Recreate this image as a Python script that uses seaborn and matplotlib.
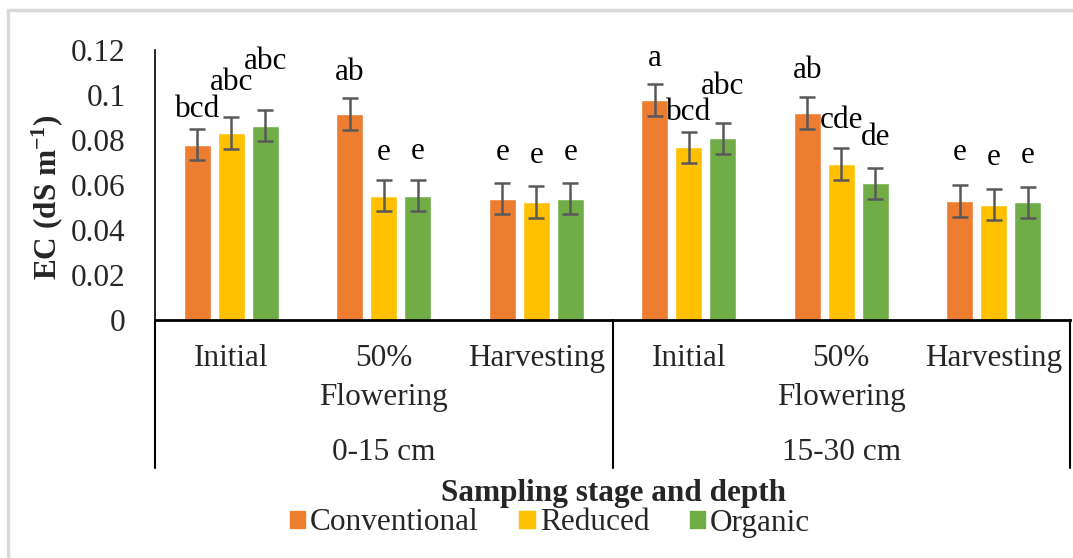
import numpy as np
import pandas as pd
import matplotlib.pyplot as plt
import seaborn as sns
from matplotlib.patches import Rectangle

# categories
stages = ["Initial", "50%\nFlowering", "Harvesting"]
depths = ["0-15 cm", "15-30 cm"]
treatments = ["Conventional", "Reduced", "Organic"]
colors = ["#ED7D31", "#FFC000", "#70AD47"]

# EC values (dS m-1), order: 0-15 cm stages then 15-30 cm stages
conventional = [0.078, 0.0915, 0.054, 0.0978, 0.092, 0.053]
reduced = [0.083, 0.0553, 0.0524, 0.0767, 0.0693, 0.0513]
organic = [0.0864, 0.0553, 0.054, 0.0807, 0.0607, 0.0523]

# error bars
err_conventional = [0.007, 0.007, 0.007, 0.007, 0.007, 0.007]
err_reduced = [0.007, 0.007, 0.007, 0.007, 0.007, 0.007]
err_organic = [0.007, 0.007, 0.007, 0.007, 0.007, 0.007]

# significance letters
letters_conventional = ["bcd", "ab", "e", "a", "ab", "e"]
letters_reduced = ["abc", "e", "e", "bcd", "cde", "e"]
letters_organic = ["abc", "e", "e", "abc", "de", "e"]

# gap (pixels) between error bar top and letter centre
gap_conventional = [19, 26, 30, 26, 27, 32]
gap_reduced = [35, 27, 31, 19, 28, 31]
gap_organic = [48, 28, 30, 36, 30, 31]

slots = [f"{d}|{s}" for d in depths for s in stages]
series = {"Conventional": conventional, "Reduced": reduced, "Organic": organic}
errors = {"Conventional": err_conventional, "Reduced": err_reduced, "Organic": err_organic}
letters = {"Conventional": letters_conventional, "Reduced": letters_reduced, "Organic": letters_organic}
gaps = {"Conventional": gap_conventional, "Reduced": gap_reduced, "Organic": gap_organic}

rows = []
for t in treatments:
    for slot, v in zip(slots, series[t]):
        rows.append({"slot": slot, "treatment": t, "ec": v})
df = pd.DataFrame(rows)

sns.set_theme(style="white")
plt.rcParams["font.family"] = ["Liberation Serif", "DejaVu Serif"]
plt.rcParams["mathtext.fontset"] = "custom"
plt.rcParams["mathtext.rm"] = "Liberation Serif"
plt.rcParams["mathtext.bf"] = "Liberation Serif:bold"
plt.rcParams["mathtext.default"] = "regular"
FS = 22.5

W, H = 1073, 558
fig = plt.figure(figsize=(W / 100, H / 100), dpi=100)
ax = fig.add_axes([155 / W, (H - 320) / H, (1070 - 155) / W, 270 / H])

sns.barplot(
    data=df, x="slot", y="ec", hue="treatment", order=slots, hue_order=treatments,
    palette=colors, width=0.67, gap=0.2, errorbar=None, saturation=1, ax=ax,
)

for t, cont in zip(treatments, ax.containers):
    xs = [p.get_x() + p.get_width() / 2 for p in cont.patches]
    hs = [p.get_height() for p in cont.patches]
    ax.errorbar(xs, hs, yerr=errors[t], fmt="none", ecolor="#595959",
                elinewidth=1.8, capsize=5.5, capthick=1.8, zorder=3)
    for x, h, e, lab, g in zip(xs, hs, errors[t], letters[t], gaps[t]):
        ax.annotate(lab, (x, h + e), xytext=(0, g), textcoords="offset pixels",
                    ha="center", va="center", fontsize=FS, color="black")

ax.get_legend().remove()

ax.set_xlim(-0.5, len(slots) - 0.5)
ax.set_ylim(0, 0.12)
yt = np.arange(0, 0.121, 0.02)
ax.set_yticks(yt)
ax.set_yticklabels([f"{v:g}" for v in yt], fontsize=FS)
ax.set_xticks(range(len(slots)))
ax.set_xticklabels(stages * 2, fontsize=FS, linespacing=1.45)
ax.tick_params(axis="y", length=0, pad=21)
ax.tick_params(axis="x", length=0, pad=17)
ax.set_xlabel("")
ax.set_ylabel("")
for s in ["top", "right"]:
    ax.spines[s].set_visible(False)
ax.spines["left"].set_color("black")
ax.spines["left"].set_linewidth(1.2)
ax.spines["bottom"].set_color("black")
ax.spines["bottom"].set_linewidth(2)

# second tier of category axis
for i, d in enumerate(depths):
    ax.text(1 + 3 * i, -0.489, d, transform=ax.get_xaxis_transform(),
            ha="center", va="center", fontsize=FS)
for xf in [0, 0.5, 1]:
    ax.plot([xf, xf], [0, -0.548], transform=ax.transAxes, clip_on=False,
            color="black", lw=1.5)

fig.text(47 / W, 1 - 197 / H, r"EC (dS m$^{-1}$)", rotation=90, ha="center",
         va="center", fontsize=FS, fontweight="bold")
fig.text(614 / W, 1 - 493 / H, "Sampling stage and depth", ha="center",
         va="center", fontsize=FS, fontweight="bold")

handles = [Rectangle((0, 0), 1, 1, color=c) for c in colors]
fig.legend(handles, treatments, loc="center", bbox_to_anchor=(550 / W, 1 - 523 / H),
           ncol=3, frameon=False, fontsize=FS, handlelength=0.5, handleheight=0.5,
           handletextpad=0.15, columnspacing=1.3, borderaxespad=0, borderpad=0)

fig.patches.append(Rectangle((8 / W, -0.05), 1.2, (H - 10) / H + 0.05,
                             transform=fig.transFigure, fill=False,
                             ec="#D9D9D9", lw=2.5))

fig.savefig("out.png", dpi=100)
